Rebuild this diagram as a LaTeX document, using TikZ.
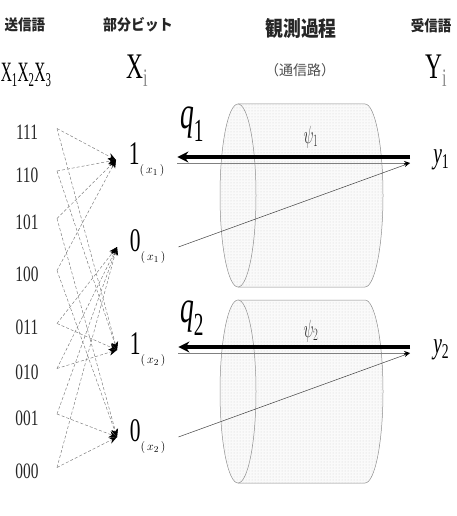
\documentclass[tikz,border=0pt]{standalone}
\usepackage{fontspec}
\setmainfont{Liberation Serif}
\newfontfamily\jpfont{Noto Sans CJK JP}
\usepackage{graphicx}
\usetikzlibrary{arrows.meta, patterns}
\newcommand{\nrw}[2][0.65]{\scalebox{#1}[1]{#2}}
\newcommand{\bitsub}[1]{\raisebox{-9pt}{\fontsize{13}{13}\selectfont$(\,#1\,)$}}

\begin{document}
\begin{tikzpicture}[x=1pt, y=-1pt,
  head/.style={font=\jpfont\bfseries\fontsize{15}{15}\selectfont, text=black!85},
  word/.style={font=\fontsize{22}{22}\selectfont, text=black!85, inner sep=1pt},
  bitnode/.style={anchor=west, minimum width=61pt, inner sep=0pt, font=\fontsize{33}{33}\selectfont},
  outnode/.style={anchor=west, minimum width=62pt, inner sep=0pt, font=\fontsize{30}{30}\selectfont},
  dashlink/.style={densely dashed, black!50, line width=0.5pt, -{Stealth[length=8pt,width=6.5pt,black]}},
  chan/.style={draw=black!45, line width=0.5pt, fill=black!2, postaction={pattern=dots, pattern color=black!18}},
  qarrow/.style={line width=3.5pt, -{Stealth[length=11pt,width=11pt]}},
  fwd/.style={black!50, line width=0.8pt, -{Stealth[length=6pt,width=4pt,black]}},
  diag/.style={black!75, line width=0.5pt, -{Stealth[length=6pt,width=4pt,black]}}]
  \useasboundingbox (0,0) rectangle (456,516);

  % headings
  \node[head] (hsend) at (25,25) {\nrw[0.9]{送信語}};
  \node[head] (hbit) at (138,25) {\nrw[0.93]{部分ビット}};
  \node[head, font=\jpfont\bfseries\fontsize{21}{21}\selectfont] (hobs) at (301,29) {\nrw[0.85]{観測過程}};
  \node[head] (hrecv) at (431,26) {\nrw[0.9]{受信語}};
  \node[font=\jpfont\fontsize{14}{14}\selectfont, text=black!70] (hchan) at (300,70) {（通信路）};
  \node[font=\fontsize{28}{28}\selectfont] (xword) at (26,75) {\nrw[0.55]{X\textsubscript{1}X\textsubscript{2}X\textsubscript{3}}};
  \node[font=\fontsize{36}{36}\selectfont] (xbit) at (137,71) {\nrw{X\textsubscript{\textcolor{black!45}{i}}}};
  \node[font=\fontsize{36}{36}\selectfont] (yout) at (436,71) {\nrw{Y\textsubscript{\textcolor{black!45}{i}}}};

  % channels
  \foreach \cy in {195.5, 391.5}{
    \draw[chan] (238,\cy-91.5) -- (365,\cy-91.5) arc[start angle=-90, end angle=90, x radius=18, y radius=91.5] -- (238,\cy+91.5);
    \draw[chan] (238,\cy) ellipse[x radius=18, y radius=91.5];
  }

  % code words
  \foreach \w/\yy in {111/132.5, 110/175, 101/222.5, 100/274.5, 011/327.5, 010/372.5, 001/418, 000/471.5}{
    \node[word] (w\w) at (27,\yy) {\nrw[0.7]{\w}};
    \coordinate (s\w) at (57,\yy-4);
  }

  % partial bits and received words
  \node[bitnode] (one1) at (116,160) {\nrw{1}\bitsub{x_1}};
  \node[bitnode] (zero1) at (117,247) {\nrw{0}\bitsub{x_1}};
  \node[bitnode] (one2) at (117,350) {\nrw{1}\bitsub{x_2}};
  \node[bitnode] (zero2) at (117,437) {\nrw{0}\bitsub{x_2}};
  \node[outnode] (y1) at (410,160) {\nrw{\textit{y}\textsubscript{1}}};
  \node[outnode] (y2) at (410,350) {\nrw{\textit{y}\textsubscript{2}}};

  \foreach \w/\pa/\pb in {111/one/one, 110/one/one, 101/one/zero, 100/one/zero,
                          011/zero/one, 010/zero/one, 001/zero/zero, 000/zero/zero}{
    \draw[dashlink] (s\w) -- (\pa1.west);
    \draw[dashlink] (s\w) -- (\pb2.west);
  }

  % observation through the channels
  \foreach \k in {1,2}{
    \ifnum\k=1 \def\hi{one1}\def\lo{zero1}\else \def\hi{one2}\def\lo{zero2}\fi
    \draw[fwd] ([yshift=-3]\hi.east) -- ([yshift=-3]y\k.west);
    \draw[diag] (\lo.east) -- ([yshift=-3]y\k.west);
    \draw[qarrow] ([yshift=3]y\k.west) -- ([yshift=3]\hi.east);
  }

  \node[font=\fontsize{46}{46}\selectfont] (q1) at (192,124) {\nrw[0.6]{\textit{q}\textsubscript{1}}};
  \node[font=\fontsize{46}{46}\selectfont] (q2) at (192,318) {\nrw[0.6]{\textit{q}\textsubscript{2}}};
  \node[font=\fontsize{25}{25}\selectfont, text=black!80] (psi1) at (311,137) {\nrw[0.6]{$\psi_1$}};
  \node[font=\fontsize{25}{25}\selectfont, text=black!80] (psi2) at (311,331) {\nrw[0.6]{$\psi_2$}};
\end{tikzpicture}
\end{document}
